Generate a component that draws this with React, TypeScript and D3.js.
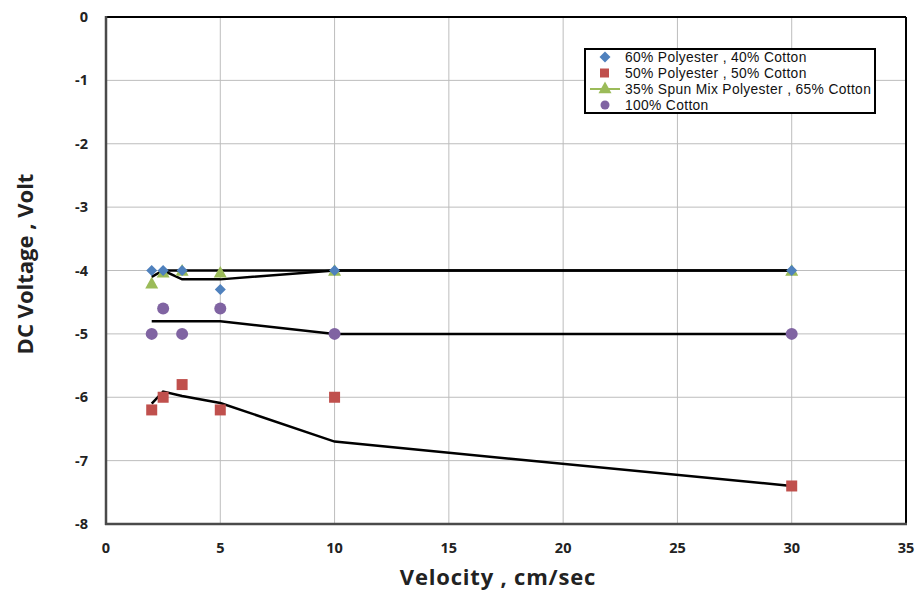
import React from "react";
import * as d3 from "d3";

const xTicks = [0, 5, 10, 15, 20, 25, 30, 35];
const yTicks = [0, -1, -2, -3, -4, -5, -6, -7, -8];

const seriesNames = [
  "60% Polyester , 40% Cotton",
  "50% Polyester , 50% Cotton",
  "35% Spun Mix Polyester , 65% Cotton",
  "100% Cotton",
];
const seriesColors = ["#4F81BD", "#C0504D", "#9BBB59", "#8064A2"];
const seriesShapes = ["diamond", "square", "triangle", "circle"];

const polyester60X = [2, 2.5, 3.33, 5, 10, 30];
const polyester60Y = [-4, -4, -4, -4.3, -4, -4];
const polyester50X = [2, 2.5, 3.33, 5, 10, 30];
const polyester50Y = [-6.2, -6.0, -5.8, -6.2, -6.0, -7.4];
const spun35X = [2, 2.5, 3.33, 5, 10, 30];
const spun35Y = [-4.2, -4.03, -4, -4.03, -4, -4];
const cotton100X = [2, 2.5, 3.33, 5, 10, 30];
const cotton100Y = [-5, -4.6, -5, -4.6, -5, -5];

const lineFlatX = [2.5, 30];
const lineFlatY = [-4, -4];
const lineUpperX = [2, 2.5, 3.33, 5, 10, 30];
const lineUpperY = [-4.1, -4.0, -4.14, -4.14, -4.0, -4.0];
const lineMidX = [2, 5, 10, 30];
const lineMidY = [-4.8, -4.8, -5.0, -5.0];
const lineLowX = [2, 2.5, 3.33, 5, 10, 30];
const lineLowY = [-6.1, -5.91, -5.98, -6.09, -6.7, -7.4];

const W = 915;
const H = 591;
const M = { left: 106, right: 9, top: 17, bottom: 67 };

export default function App() {
  const x = d3.scaleLinear().domain([0, 35]).range([M.left, W - M.right]);
  const y = d3.scaleLinear().domain([-8, 0]).range([H - M.bottom, M.top]);
  const x0 = x(0), x1 = x(35), y0 = y(0), y1 = y(-8);

  const seriesX = [polyester60X, polyester50X, spun35X, cotton100X];
  const seriesY = [polyester60Y, polyester50Y, spun35Y, cotton100Y];
  const lines = [
    [lineFlatX, lineFlatY],
    [lineUpperX, lineUpperY],
    [lineMidX, lineMidY],
    [lineLowX, lineLowY],
  ];
  const lineGen = d3.line<[number, number]>().x((d) => x(d[0])).y((d) => y(d[1]));

  const marker = (shape: string, cx: number, cy: number, color: string, key: string) => {
    if (shape === "diamond") {
      const s = 5.5;
      return <path key={key} d={`M${cx},${cy - s}L${cx + s},${cy}L${cx},${cy + s}L${cx - s},${cy}Z`} fill={color} />;
    }
    if (shape === "square") {
      const s = 5.5;
      return <rect key={key} x={cx - s} y={cy - s} width={2 * s} height={2 * s} fill={color} />;
    }
    if (shape === "triangle") {
      const s = 6.5;
      return <path key={key} d={`M${cx},${cy - s}L${cx + s},${cy + s * 0.8}L${cx - s},${cy + s * 0.8}Z`} fill={color} />;
    }
    return <circle key={key} cx={cx} cy={cy} r={6} fill={color} />;
  };

  const drawOrder = [2, 0, 3, 1];

  const legX = 585, legY = 49, legW = 290, legH = 64;
  const rowY = [57, 73, 89, 105];
  const font = "'Open Sans', 'Liberation Sans', Arial, sans-serif";

  return (
    <svg width={W} height={H} style={{ position: "absolute", left: 0, top: 0, background: "#fff" }}
      fontFamily={font}>
      {xTicks.filter((t) => t > 0 && t < 35).map((t) => (
        <line key={"gx" + t} x1={x(t)} x2={x(t)} y1={y0} y2={y1} stroke="#bdbdbd" strokeWidth={1} />
      ))}
      {yTicks.filter((t) => t < 0 && t > -8).map((t) => (
        <line key={"gy" + t} x1={x0} x2={x1} y1={y(t)} y2={y(t)} stroke="#bdbdbd" strokeWidth={1} />
      ))}
      <line x1={x0} x2={x1} y1={y0} y2={y0} stroke="#000" strokeWidth={2} />
      <line x1={x1} x2={x1} y1={y0} y2={y1} stroke="#000" strokeWidth={2} />
      <line x1={x0} x2={x0} y1={y0 - 1} y2={y1 + 1} stroke="#4a4a4a" strokeWidth={2.5} />
      <line x1={x0 - 1} x2={x1 + 1} y1={y1} y2={y1} stroke="#4a4a4a" strokeWidth={2.5} />

      {xTicks.map((t) => (
        <text key={"tx" + t} x={x(t)} y={y1 + 29} textAnchor="middle" fontSize={14.5} fontWeight="bold" fill="#222">
          {t}
        </text>
      ))}
      {yTicks.map((t) => (
        <text key={"ty" + t} x={88} y={y(t) + 5} textAnchor="end" fontSize={14.5} fontWeight="bold" fill="#222">
          {t}
        </text>
      ))}

      {lines.map(([lx, ly], i) => (
        <path key={"l" + i} d={lineGen(lx.map((v, j) => [v, ly[j]] as [number, number])) || ""}
          fill="none" stroke="#000" strokeWidth={2.5} />
      ))}

      {drawOrder.map((si) =>
        seriesX[si].map((xv, j) => marker(seriesShapes[si], x(xv), y(seriesY[si][j]), seriesColors[si], `m${si}-${j}`))
      )}

      <text x={498} y={585} textAnchor="middle" fontSize={22} letterSpacing={0.8} fontWeight="bold" fill="#222">
        Velocity , cm/sec
      </text>
      <text transform={`translate(33,264) rotate(-90)`} textAnchor="middle" fontSize={22} fontWeight="bold" fill="#222">
        DC Voltage , Volt
      </text>

      <rect x={legX} y={legY} width={legW} height={legH} fill="#fff" stroke="#000" strokeWidth={2} />
      {seriesNames.map((n, i) => (
        <g key={"lg" + i}>
          {i === 2 && <line x1={590} x2={620} y1={rowY[i]} y2={rowY[i]} stroke={seriesColors[i]} strokeWidth={2} />}
          {i === 0 && marker("diamond", 605, rowY[i], seriesColors[i], "ld0")}
          {i === 1 && <rect x={600} y={rowY[i] - 4.5} width={9} height={9} fill={seriesColors[i]} />}
          {i === 2 && marker("triangle", 605, rowY[i] - 1, seriesColors[i], "ld2")}
          {i === 3 && <circle cx={605} cy={rowY[i]} r={4.5} fill={seriesColors[i]} />}
          <text x={625} y={rowY[i] + 5} fontSize={13.8} letterSpacing={0.35} fill="#111"
            style={{ fontFamily: "'Liberation Sans', Arial, sans-serif" }}>
            {n}
          </text>
        </g>
      ))}
    </svg>
  );
}
